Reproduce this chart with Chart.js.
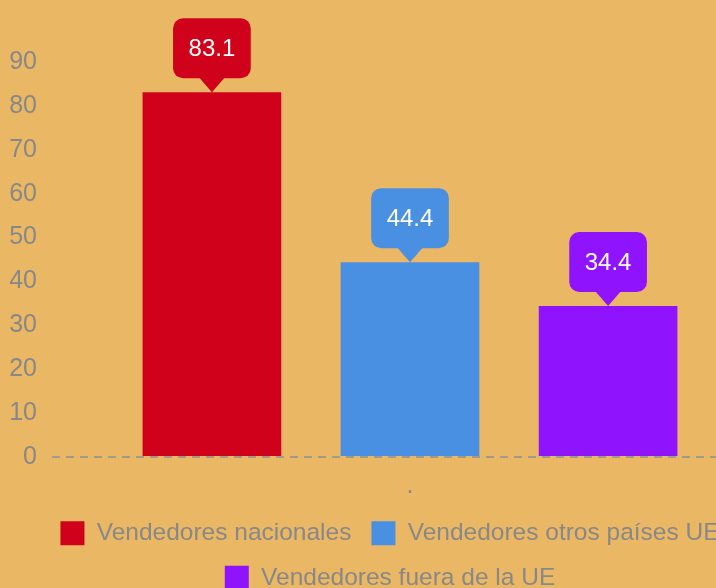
<!DOCTYPE html>
<html>
<head>
<meta charset="utf-8">
<script src="https://cdn.jsdelivr.net/npm/chart.js@4"></script>
<style>
  html, body { margin: 0; padding: 0; background: #eab765; overflow: hidden; }
  canvas { display: block; }
</style>
</head>
<body>
<canvas id="myChart" width="798" height="600"></canvas>
<script>
// datos
const categorias = ['.'];
const series = ['Vendedores nacionales', 'Vendedores otros países UE', 'Vendedores fuera de la UE'];
const valores = [83.1, 44.4, 34.4];
const colores = ['#d0021b', '#4a90e2', '#9013fe'];
const ticksY = [0, 10, 20, 30, 40, 50, 60, 70, 80, 90];

const gris = '#888888';
const fuente = 'Liberation Sans, Arial, sans-serif';

// globito con el valor encima de cada barra
const etiquetas = {
  id: 'etiquetas',
  afterDatasetsDraw(chart) {
    const ctx = chart.ctx;
    ctx.save();
    ctx.font = '24px ' + fuente;
    chart.data.datasets.forEach((ds, i) => {
      const meta = chart.getDatasetMeta(i);
      meta.data.forEach((bar, j) => {
        const txt = String(ds.data[j]);
        const w = ctx.measureText(txt).width + 31;
        const h = 60;
        const tip = 14;
        const x = bar.x;
        const bottom = bar.y - tip;
        const top = bottom - h;
        ctx.fillStyle = ds.backgroundColor;
        ctx.beginPath();
        ctx.roundRect(x - w / 2, top, w, h, 10);
        ctx.fill();
        ctx.beginPath();
        ctx.moveTo(x - 13, bottom - 1);
        ctx.lineTo(x + 13, bottom - 1);
        ctx.lineTo(x, bar.y);
        ctx.closePath();
        ctx.fill();
        ctx.fillStyle = '#ffffff';
        ctx.textAlign = 'center';
        ctx.textBaseline = 'middle';
        ctx.fillText(txt, x, top + h / 2 + 1);
      });
    });
    ctx.restore();
  }
};

// corre un poco la leyenda a la derecha
const moverLeyenda = {
  id: 'moverLeyenda',
  afterLayout(chart) {
    if (chart.legend) chart.legend.left += 12;
  }
};

const data = {
  labels: categorias,
  datasets: series.map((s, i) => ({
    label: s,
    data: [valores[i]],
    backgroundColor: colores[i],
    borderWidth: 0
  }))
};

const config = {
  type: 'bar',
  data: data,
  options: {
    responsive: false,
    animation: false,
    categoryPercentage: 0.83,
    barPercentage: 0.7,
    layout: { padding: { top: 62, right: 30, left: 0, bottom: 0 } },
    plugins: {
      legend: {
        position: 'bottom',
        labels: {
          boxWidth: 24,
          boxHeight: 24,
          padding: 20,
          color: gris,
          font: { size: 24.5, family: fuente }
        }
      },
      tooltip: { enabled: false }
    },
    scales: {
      x: {
        grid: { display: false },
        border: { display: false },
        ticks: { color: gris, font: { size: 25, family: fuente }, padding: 6 },
        afterFit: (axis) => { axis.height -= 6; }
      },
      y: {
        min: 0,
        max: 90,
        afterBuildTicks: (axis) => { axis.ticks = ticksY.map(v => ({ value: v })); },
        afterFit: (axis) => { axis.width = 52; },
        grid: {
          drawTicks: false,
          lineWidth: 2,
          color: (c) => c.tick && c.tick.value === 0 ? '#a09a8c' : 'rgba(0,0,0,0)'
        },
        border: { display: false, dash: [8, 6] },
        ticks: { color: gris, font: { size: 25, family: fuente }, padding: 15 }
      }
    }
  },
  plugins: [etiquetas, moverLeyenda]
};

const myChart = new Chart(document.getElementById('myChart').getContext('2d'), config);
</script>
</body>
</html>
